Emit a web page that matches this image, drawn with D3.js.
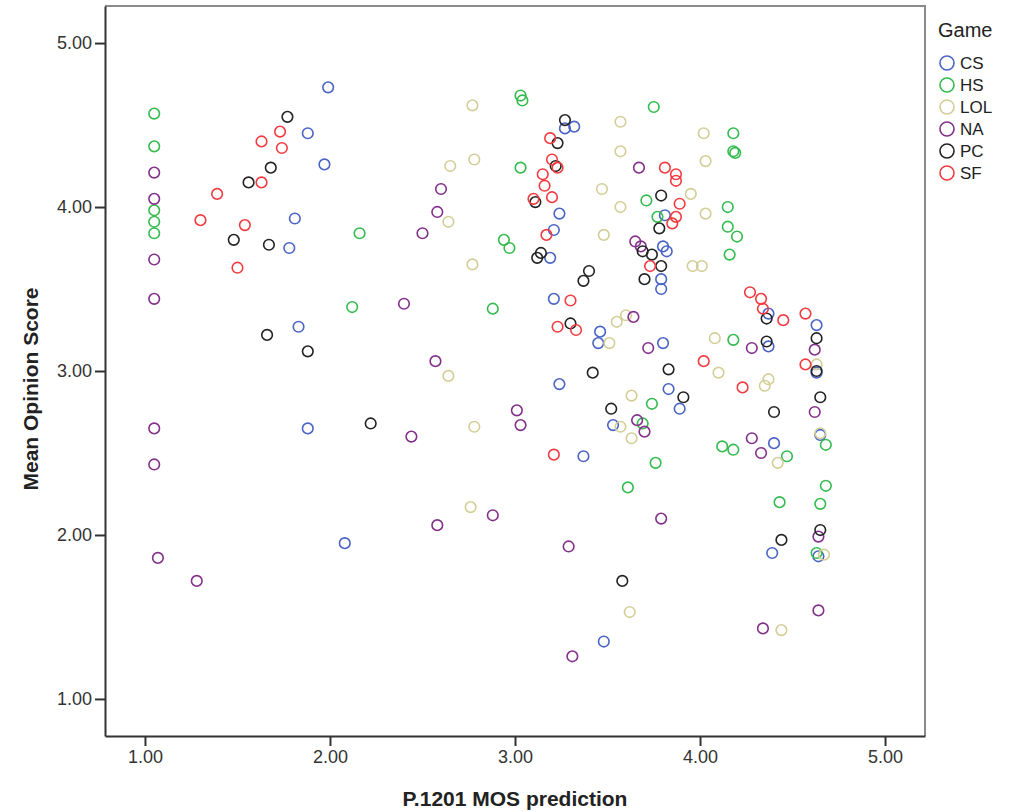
<!DOCTYPE html>
<html>
<head>
<meta charset="utf-8">
<script src="https://cdn.jsdelivr.net/npm/d3@7"></script>
<style>
  body { margin: 0; background: #fff; }
  svg text { font-family: "Liberation Sans", Arial, sans-serif; }
</style>
</head>
<body>
<div id="container"></div>
<script>
const width = 1017,
  height = 812,
  margin = { top: 6, bottom: 76, left: 105, right: 92 }

/* DATA: [P.1201 prediction, MOS] per game */
const games = ["CS", "HS", "LOL", "NA", "PC", "SF"]
const colors = ["#4a64c6", "#34bb4e", "#d3ce97", "#82308a", "#222222", "#f23b40"]
const xTicks = [1, 2, 3, 4, 5]
const yTicks = [1, 2, 3, 4, 5]

const cs = [[1.99,4.73],[1.88,4.45],[1.97,4.26],[1.81,3.93],[1.78,3.75],[1.83,3.27],[1.88,2.65],[2.08,1.95],
  [3.27,4.48],[3.32,4.49],[3.24,3.96],[3.21,3.86],[3.19,3.69],[3.21,3.44],[3.46,3.24],[3.45,3.17],[3.24,2.92],
  [3.53,2.67],[3.37,2.48],[3.48,1.35],[3.81,3.95],[3.80,3.76],[3.82,3.73],[3.79,3.56],[3.79,3.50],[3.80,3.17],
  [3.83,2.89],[3.89,2.77],[4.37,3.35],[4.37,3.15],[4.63,3.28],[4.63,2.99],[4.65,2.61],[4.40,2.56],[4.39,1.89],[4.64,1.87]]
const hs = [[1.05,4.57],[1.05,4.37],[1.05,3.98],[1.05,3.91],[1.05,3.84],[2.16,3.84],[2.12,3.39],[2.88,3.38],
  [3.03,4.68],[3.04,4.65],[3.03,4.24],[2.94,3.80],[2.97,3.75],[3.75,4.61],[4.18,4.45],[4.18,4.34],[4.19,4.33],
  [3.71,4.04],[4.15,4.00],[3.77,3.94],[4.15,3.88],[4.20,3.82],[4.16,3.71],[4.18,3.19],[3.74,2.80],[3.69,2.68],
  [4.12,2.54],[4.18,2.52],[3.76,2.44],[3.61,2.29],[4.68,2.55],[4.47,2.48],[4.68,2.30],[4.43,2.20],[4.65,2.19],[4.63,1.89]]
const lol = [[2.77,4.62],[2.78,4.29],[2.65,4.25],[2.64,3.91],[2.77,3.65],[2.64,2.97],[2.78,2.66],[2.76,2.17],
  [3.47,4.11],[3.48,3.83],[3.57,4.52],[3.57,4.34],[3.57,4.00],[4.02,4.45],[4.03,4.28],[3.95,4.08],[4.03,3.96],
  [3.96,3.64],[4.01,3.64],[3.55,3.30],[3.60,3.34],[3.51,3.17],[4.08,3.20],[4.10,2.99],[3.63,2.85],[3.57,2.66],
  [3.63,2.59],[4.63,3.04],[4.37,2.95],[4.35,2.91],[4.65,2.62],[4.42,2.44],[4.67,1.88],[3.62,1.53],[4.44,1.42]]
const na = [[1.05,4.21],[1.05,4.05],[1.05,3.68],[1.05,3.44],[1.05,2.65],[1.05,2.43],[1.07,1.86],[1.28,1.72],
  [2.60,4.11],[2.58,3.97],[2.50,3.84],[2.40,3.41],[2.57,3.06],[3.01,2.76],[3.03,2.67],[2.44,2.60],[2.88,2.12],
  [2.58,2.06],[3.29,1.93],[3.31,1.26],[3.67,4.24],[3.65,3.79],[3.68,3.76],[3.64,3.33],[3.72,3.14],[3.66,2.70],
  [3.70,2.63],[3.79,2.10],[4.28,3.14],[4.28,2.59],[4.62,3.13],[4.62,2.75],[4.33,2.50],[4.64,1.99],[4.64,1.54],[4.34,1.43]]
const pc = [[1.77,4.55],[1.68,4.24],[1.56,4.15],[1.48,3.80],[1.67,3.77],[1.66,3.22],[1.88,3.12],[2.22,2.68],
  [3.27,4.53],[3.23,4.39],[3.22,4.25],[3.11,4.03],[3.14,3.72],[3.12,3.69],[3.40,3.61],[3.37,3.55],[3.30,3.29],
  [3.42,2.99],[3.52,2.77],[3.58,1.72],[3.79,4.07],[3.78,3.87],[3.69,3.73],[3.74,3.71],[3.79,3.64],[3.70,3.56],
  [3.83,3.01],[3.91,2.84],[4.36,3.32],[4.36,3.18],[4.63,3.20],[4.63,3.00],[4.65,2.84],[4.40,2.75],[4.65,2.03],[4.44,1.97]]
const sf = [[1.73,4.46],[1.63,4.40],[1.74,4.36],[1.63,4.15],[1.39,4.08],[1.30,3.92],[1.54,3.89],[1.50,3.63],
  [3.19,4.42],[3.20,4.29],[3.23,4.24],[3.15,4.20],[3.16,4.13],[3.10,4.05],[3.20,4.06],[3.17,3.83],[3.30,3.43],
  [3.23,3.27],[3.33,3.25],[3.21,2.49],[3.81,4.24],[3.87,4.20],[3.87,4.16],[3.89,4.02],[3.87,3.94],[3.85,3.90],
  [3.73,3.64],[4.27,3.48],[4.33,3.44],[4.34,3.38],[4.45,3.31],[4.57,3.35],[4.02,3.06],[4.23,2.90],[4.57,3.04]]

const series = [cs, hs, lol, na, pc, sf]
const points = []
series.forEach((s, i) => s.forEach(d => points.push({ game: games[i], x: d[0], y: d[1] })))

// SCALES
const xScale = d3.scaleLinear()
  .domain([0.784, 5.216])
  .range([margin.left, width - margin.right])

const yScale = d3.scaleLinear()
  .domain([0.774, 5.226])
  .range([height - margin.bottom, margin.top])

const color = d3.scaleOrdinal().domain(games).range(colors)

// SVG
const svg = d3.select("#container")
  .append("svg")
  .attr("width", width)
  .attr("height", height)

// frame top/right (grey)
svg.append("path")
  .attr("fill", "none")
  .attr("stroke", "#8a8a8a")
  .attr("stroke-width", 2)
  .attr("d", `M${xScale.range()[0]},${yScale.range()[1]}H${xScale.range()[1]}V${yScale.range()[0]}`)

// AXES
const xAxis = d3.axisBottom(xScale)
  .tickValues(xTicks)
  .tickFormat(d3.format(".2f"))
  .tickSize(10)
  .tickSizeOuter(0)
  .tickPadding(4)

const gx = svg.append("g")
  .attr("transform", `translate(0,${height - margin.bottom})`)
  .call(xAxis)

const yAxis = d3.axisLeft(yScale)
  .tickValues(yTicks)
  .tickFormat(d3.format(".2f"))
  .tickSize(10)
  .tickSizeOuter(0)
  .tickPadding(3)

const gy = svg.append("g")
  .attr("transform", `translate(${margin.left},0)`)
  .call(yAxis)

;[gx, gy].forEach(g => {
  g.select(".domain").attr("stroke", "#333").attr("stroke-width", 2)
  g.selectAll(".tick line").attr("stroke", "#333").attr("stroke-width", 2)
  g.selectAll(".tick text").attr("fill", "#333").style("font-size", "18px")
})

// axis titles
svg.append("text")
  .attr("x", (xScale.range()[0] + xScale.range()[1]) / 2)
  .attr("y", 806)
  .attr("text-anchor", "middle")
  .attr("font-weight", "bold")
  .attr("font-size", 21)
  .attr("fill", "#222")
  .text("P.1201 MOS prediction")

svg.append("text")
  .attr("transform", "translate(38,389) rotate(-90)")
  .attr("text-anchor", "middle")
  .attr("font-weight", "bold")
  .attr("font-size", 21)
  .attr("fill", "#222")
  .text("Mean Opinion Score")

// POINTS
svg.append("g")
  .selectAll("circle")
  .data(points)
  .join("circle")
  .attr("cx", d => xScale(d.x))
  .attr("cy", d => yScale(d.y))
  .attr("r", 5.3)
  .attr("fill", "none")
  .attr("stroke", d => color(d.game))
  .attr("stroke-width", 1.6)

// LEGEND
const legend = svg.append("g").attr("transform", "translate(938,0)")
legend.append("text")
  .attr("x", 0)
  .attr("y", 37)
  .attr("font-size", 20)
  .attr("fill", "#222")
  .text("Game")

const item = legend.selectAll(".item")
  .data(games)
  .join("g")
  .attr("class", "item")
  .attr("transform", (d, i) => `translate(0,${63 + i * 22})`)

item.append("circle")
  .attr("cx", 9)
  .attr("cy", 0)
  .attr("r", 7)
  .attr("fill", "none")
  .attr("stroke", d => color(d))
  .attr("stroke-width", 1.6)

item.append("text")
  .attr("x", 22)
  .attr("y", 6)
  .attr("font-size", 17)
  .attr("fill", "#222")
  .text(d => d)
</script>
</body>
</html>
